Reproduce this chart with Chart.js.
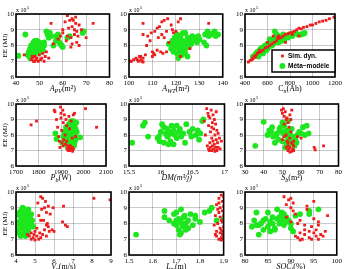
<!DOCTYPE html>
<html>
<head>
<meta charset="utf-8">
<title>EE vs design variables</title>
<script src="https://cdn.jsdelivr.net/npm/chart.js"></script>
<style>
    body {
        margin: 0;
        background: #ffffff;
        width: 345px;
        height: 269px;
        overflow: hidden;
        position: relative;
    }
    canvas {
        position: absolute;
    }
</style>
</head>
<body>
<script>
    // EE values are in units of 1e5 MJ, pairs are [input, EE]
    const simApv = [[43.5,7.4],[46.5,7.1],[47,7.2],[47.5,7.0],[48,7.3],[48.5,7.1],[49,7.2],[49.5,7.0],[50,7.4],[50.5,7.1],[51,7.2],[51.5,7.5],[52,7.0],[52.5,7.3],[53,7.6],[54,7.2],[47,7.3],[48,7.0],[55,9.4],[56,8.1],[60,8.8],[61,9.5],[61.5,8.3],[62,8.6],[62.5,9.1],[63,9.6],[63.5,8.5],[64,9.2],[64,8.1],[64.5,9.6],[65,9.0],[65,8.7],[65.5,9.4],[66,8.9],[66,8.2],[66.5,8.6],[67,9.3],[67,8.0],[63.5,7.9],[68,9.0],[70,8.5],[73,9.4],[62,9.9],[64,9.7],[65.5,9.8],[60,9.0],[58,8.4],[59,8.6]];
    const metaApv = [[41,7.35],[44,8.7],[45,7.4],[45.5,7.6],[46,7.8],[46,7.3],[46.5,8.0],[47,7.5],[47,7.9],[47.5,8.2],[47.5,7.7],[48,8.1],[48,7.4],[48.5,7.8],[49,8.3],[49,7.6],[49.5,8.0],[50,7.8],[50,8.2],[50.5,7.9],[51,8.1],[51.5,7.7],[52,8.2],[53,8.9],[53.5,8.7],[54,8.5],[54.5,8.8],[55,8.6],[56,8.0],[57,8.3],[57.5,8.4],[58,8.5],[58.5,8.2],[59,8.1],[59.5,8.0],[60,7.9],[62,8.5],[63,8.6],[68.5,8.8],[69,8.9],[46,7.2],[48,8.3],[51,7.6],[52,8.0],[57,8.6],[58,8.7]];

    const simAwt = [[100.5,7.0],[102,7.1],[103,7.2],[104,7.0],[105,7.1],[105,7.3],[105.5,7.0],[106,7.2],[106,6.95],[107,7.4],[106,9.4],[106,8.7],[107.5,8.0],[108,8.6],[109,8.3],[109.5,8.8],[110,7.3],[110,7.6],[110.5,7.5],[111,8.9],[111,7.4],[112,9.1],[112,7.7],[112.5,8.5],[113,9.2],[113.5,7.6],[114,9.5],[114,8.7],[114.5,7.5],[115,9.6],[115,8.5],[116,8.9],[116,7.6],[116.5,9.7],[117,8.2],[118,9.3],[118.5,9.0],[119,8.8],[120,8.9],[121,9.5],[122,9.7],[122,7.3],[126,7.8],[134,9.4],[101,7.0],[103.5,7.1],[104.5,7.3]];
    const metaAwt = [[117,8.1],[118,7.8],[118.5,8.3],[119,7.6],[119,8.0],[119.5,8.5],[120,7.9],[120,8.2],[120.5,7.5],[121,8.4],[121,8.0],[121.5,7.7],[122,8.6],[122,8.1],[122.5,7.4],[122.5,7.9],[123,8.3],[123,7.6],[123.5,8.0],[124,8.8],[124,7.8],[124.5,8.2],[125,7.3],[125,8.5],[125.5,7.9],[126,8.4],[126.5,8.1],[127,8.6],[127.5,8.3],[128,8.5],[129,8.2],[129.5,8.6],[130,8.4],[132,8.2],[132.5,8.7],[133,8.0],[133.5,8.9],[134,8.6],[135,8.7],[136,8.8],[136.5,8.9],[137,8.6],[138,8.7],[121,7.2],[124,7.5],[120.5,8.7],[123,8.8]];

    const simCn = [[430,6.95],[445,7.05],[460,7.1],[470,7.2],[480,7.3],[490,7.35],[500,7.4],[510,7.5],[520,7.55],[540,7.6],[560,7.7],[580,7.85],[600,7.9],[620,8.0],[640,8.1],[660,8.2],[680,8.3],[700,8.45],[720,8.5],[740,8.6],[760,8.7],[780,8.75],[800,8.8],[820,8.85],[840,8.9],[860,9.0],[880,9.1],[900,9.05],[920,9.15],[950,9.2],[980,9.3],[1000,9.3],[1030,9.4],[1060,9.5],[1090,9.55],[1120,9.6],[1150,9.7],[1190,9.8],[650,8.6],[690,8.5],[700,8.6],[470,7.15],[490,7.25],[530,7.7],[600,8.2],[760,8.2],[820,8.7],[880,8.6]];
    const metaCn = [[470,7.3],[490,7.4],[500,7.5],[510,7.6],[520,7.45],[530,7.7],[540,7.8],[550,7.6],[560,7.9],[570,7.85],[580,8.0],[590,7.7],[600,8.1],[610,7.9],[620,8.2],[630,8.05],[640,8.3],[650,8.1],[660,8.4],[665,8.9],[670,8.2],[680,8.5],[690,8.3],[700,8.6],[710,8.4],[720,8.5],[730,8.3],[740,8.7],[750,8.4],[760,8.6],[780,8.5],[800,8.7],[820,8.6],[850,8.8],[870,8.7],[900,8.7],[920,8.75],[930,8.8],[560,7.5],[600,7.8],[640,8.0],[520,7.3],[580,7.7],[700,8.2],[620,8.4],[680,8.7]];

    const simPb = [[1767,8.65],[1791,8.9],[1870,9.6],[1873,9.5],[1880,9.0],[1885,8.5],[1890,7.9],[1893,7.6],[1895,7.2],[1898,9.8],[1900,9.1],[1903,8.3],[1905,7.5],[1908,9.6],[1910,8.8],[1912,7.7],[1915,9.3],[1918,8.0],[1920,7.4],[1922,9.0],[1925,8.6],[1928,7.1],[1930,7.3],[1932,7.0],[1935,7.2],[1937,7.1],[1940,7.0],[1942,7.3],[1945,7.15],[1948,7.05],[1950,7.2],[1952,6.95],[1955,7.1],[1935,9.2],[1938,8.4],[1955,9.3],[1960,9.4],[1965,7.9],[2009,9.7],[2058,8.5],[1900,9.4],[1910,7.3],[1925,7.6],[1945,8.9],[1950,7.8]];
    const metaPb = [[1875,8.1],[1880,7.75],[1905,7.5],[1910,7.9],[1915,8.2],[1920,7.6],[1922,8.5],[1925,8.0],[1928,7.4],[1930,8.3],[1932,7.8],[1935,8.7],[1935,8.1],[1938,7.5],[1940,8.4],[1940,7.9],[1942,8.8],[1945,8.2],[1945,7.6],[1948,8.6],[1950,8.0],[1950,7.3],[1952,8.4],[1955,7.8],[1955,8.9],[1958,8.2],[1960,8.6],[1960,7.5],[1962,8.0],[1965,8.4],[1965,7.7],[1968,8.8],[1970,8.2],[1985,7.85],[1930,7.2],[1945,8.9],[1958,7.3],[1938,8.5],[1948,7.9],[1925,8.3]];

    const simDm = [[16.68,8.9],[16.72,9.7],[16.73,7.3],[16.74,9.4],[16.75,7.1],[16.75,8.6],[16.76,7.0],[16.77,9.1],[16.77,7.5],[16.78,8.2],[16.78,7.2],[16.79,9.6],[16.8,7.8],[16.8,7.0],[16.81,8.8],[16.81,7.3],[16.82,9.3],[16.82,7.6],[16.83,8.4],[16.83,7.1],[16.84,9.0],[16.84,7.4],[16.85,8.0],[16.85,6.95],[16.86,7.2],[16.86,8.7],[16.87,9.5],[16.87,7.7],[16.88,7.0],[16.88,8.3],[16.89,7.5],[16.9,7.2],[16.9,8.1],[16.92,7.8],[16.93,7.1],[16.95,7.6],[16.7,8.0],[16.75,9.2],[16.8,8.5]];
    const metaDm = [[15.55,7.5],[15.72,8.6],[15.75,8.8],[15.8,7.9],[15.95,7.8],[15.97,7.9],[16.0,8.2],[16.02,8.7],[16.05,8.5],[16.05,7.5],[16.08,8.1],[16.1,8.4],[16.1,7.9],[16.12,8.0],[16.15,8.2],[16.15,7.6],[16.18,8.1],[16.2,8.3],[16.2,7.4],[16.22,8.0],[16.25,8.6],[16.25,7.8],[16.28,8.2],[16.3,8.4],[16.32,7.9],[16.35,8.1],[16.38,7.5],[16.4,8.7],[16.45,8.2],[16.48,7.9],[16.5,8.4],[16.55,8.0],[16.58,8.3],[16.62,8.1],[16.65,8.9],[16.67,9.0],[16.6,7.7],[16.12,7.4],[16.17,8.6],[15.98,7.6]];

    const simSb = [[49.5,9.6],[50,9.4],[50.5,9.7],[51,9.2],[51,8.7],[51.5,9.5],[52,9.0],[52,8.0],[52.5,7.6],[53,7.3],[53,7.0],[53.5,8.5],[53.5,7.1],[54,9.3],[54,7.8],[54,7.2],[54.5,8.2],[55,7.5],[55,6.95],[55.5,7.1],[55.5,7.4],[56,7.0],[56,7.3],[53,8.8],[52.5,9.1],[51,7.9],[50,7.7],[54,6.9],[55,9.6],[58,7.9],[60,7.8],[67,7.2],[67.5,7.05],[72,7.3],[52,7.2],[53,7.5],[56,7.6],[54.5,9.0]];
    const metaSb = [[35.5,7.3],[40,8.85],[42,8.0],[43,8.3],[44,8.2],[45,7.9],[46,7.5],[47,8.1],[48,7.7],[48.5,8.4],[49,8.5],[50,8.8],[50,7.6],[51,8.6],[51,8.0],[52,8.3],[52,7.5],[53,8.9],[53,7.8],[54,8.1],[54,7.6],[55,8.4],[56,7.9],[56.5,7.3],[57,7.7],[58,8.0],[59,8.2],[60,8.1],[61,8.5],[62,8.0],[63,8.6],[64,8.1],[46.5,7.9],[49.5,8.2],[53.5,7.4],[57.5,7.5],[44.5,8.5],[51.5,7.2]];

    const simVv = [[4.6,7.3],[4.7,7.2],[4.8,7.0],[4.8,7.4],[4.9,7.1],[4.95,7.3],[5.0,7.5],[5.0,6.95],[5.1,7.2],[5.15,9.3],[5.2,7.0],[5.2,8.5],[5.25,7.4],[5.3,9.7],[5.3,7.1],[5.35,8.9],[5.4,9.6],[5.4,7.3],[5.45,8.2],[5.5,9.0],[5.5,7.6],[5.55,9.4],[5.6,8.7],[5.6,7.2],[5.65,8.0],[5.7,9.1],[5.7,7.8],[5.75,7.5],[5.8,8.6],[5.9,7.6],[5.95,9.0],[6.0,7.5],[6.5,9.1],[6.45,8.1],[6.6,7.9],[6.7,7.8],[8.1,9.6],[8.95,9.5],[5.1,7.7],[5.3,8.2],[5.6,7.9]];
    const metaVv = [[4.1,7.6],[4.15,8.1],[4.2,8.5],[4.2,7.9],[4.25,8.8],[4.3,7.3],[4.3,8.3],[4.35,7.7],[4.35,9.0],[4.4,8.0],[4.4,8.6],[4.45,7.5],[4.45,8.2],[4.5,8.9],[4.5,7.8],[4.55,8.4],[4.55,7.4],[4.6,8.1],[4.6,8.7],[4.65,7.6],[4.7,8.3],[4.7,7.9],[4.75,8.5],[4.8,8.0],[4.85,8.2],[4.9,7.8],[4.25,7.2],[4.5,7.2],[4.4,8.8],[4.65,8.9],[4.3,8.0],[4.5,8.0],[4.15,7.4],[4.8,8.6],[4.2,8.7],[4.6,7.3]];

    const simLm = [[1.86,7.9],[1.865,8.5],[1.87,7.2],[1.87,9.2],[1.875,8.0],[1.88,7.0],[1.88,9.6],[1.88,8.7],[1.885,7.4],[1.885,9.0],[1.89,7.1],[1.89,8.2],[1.89,9.8],[1.89,7.6],[1.895,8.8],[1.895,7.3],[1.895,9.4],[1.9,7.0],[1.9,8.5],[1.9,7.8],[1.9,9.7],[1.9,7.2],[1.885,7.7],[1.875,8.9],[1.88,9.3],[1.895,8.1],[1.87,7.5],[1.865,7.3],[1.89,6.95],[1.9,9.1],[1.885,8.4],[1.895,7.5]];
    const metaLm = [[1.53,7.3],[1.65,8.8],[1.65,8.4],[1.67,8.2],[1.69,8.6],[1.69,8.0],[1.7,7.9],[1.7,8.7],[1.71,8.3],[1.71,7.6],[1.72,8.9],[1.72,8.1],[1.72,7.4],[1.73,7.8],[1.73,8.4],[1.74,8.0],[1.74,7.6],[1.75,8.2],[1.75,7.7],[1.76,8.6],[1.77,7.9],[1.78,8.5],[1.78,8.3],[1.8,8.1],[1.82,8.7],[1.84,8.8],[1.85,9.0],[1.87,8.2],[1.9,8.3],[1.7,8.2],[1.715,7.3],[1.735,8.5],[1.725,7.9]];

    const simSoc = [[88.5,9.7],[89,9.2],[89.5,9.5],[90,9.6],[90,9.0],[90.5,8.8],[90.5,9.3],[91,8.6],[91,7.2],[91.5,7.1],[92,8.2],[92,7.4],[92.5,7.0],[93,7.9],[93,7.3],[93.5,9.1],[93.5,8.9],[94,7.5],[94,7.1],[94.5,7.8],[95,7.4],[95,9.4],[95.5,7.6],[95.5,7.2],[96,7.0],[96,7.9],[96.5,7.3],[97,7.2],[97.5,7.5],[98,8.5],[94.5,7.0],[93,7.6],[92,6.95],[91.5,8.0],[96,8.1],[95,8.3],[89,8.4],[90,8.1]];
    const metaSoc = [[81.5,7.8],[82,8.2],[82.5,8.7],[83,7.3],[83,7.9],[83.5,8.0],[84,8.2],[84.5,8.3],[85,8.7],[85,7.8],[85.5,8.1],[85.5,7.5],[86,8.0],[86.5,7.7],[86.5,7.6],[87,8.9],[87,8.3],[87.5,8.4],[87.5,8.0],[88,8.5],[88,8.2],[88.5,8.6],[88.5,7.9],[89,8.4],[89.5,8.2],[90,7.7],[90,8.0],[90.5,7.5],[91,8.5],[92,8.6],[94,8.6],[94,8.8],[96,8.9],[84,7.6],[86,8.4],[88,8.7],[89,8.1],[82.5,7.9]];

    // axis ranges and labels, one entry per panel (row by row)
    const xRanges = [[40,80,10],[100,140,10],[400,1200,200],[1700,2100,100],[15.5,17,0.5],[30,80,10],[4,9,1],[1.5,1.9,0.1],[80,100,5]];
    const yRange = [6, 10, 1];
    // title parts: [text, kind] kind: 'i' italic, 's' italic subscript, 'r' roman
    const xTitles = [
        [['A','i'],['PV','s'],['(m²)','r']],
        [['A','i'],['WT','s'],['(m²)','r']],
        [['C','r'],['n','s'],['(Ah)','r']],
        [['P','i'],['b','s'],['(W)','r']],
        [['DM','i'],['(m³/j)','i']],
        [['S','i'],['b','s'],['(m²)','r']],
        [['V','i'],['v','s'],['(m/s)','r']],
        [['L','i'],['m','s'],['(m)','r']],
        [['SOC','i'],['i','s'],['(%)','r']]
    ];
    const seriesSim = [simApv, simAwt, simCn, simPb, simDm, simSb, simVv, simLm, simSoc];
    const seriesMeta = [metaApv, metaAwt, metaCn, metaPb, metaDm, metaSb, metaVv, metaLm, metaSoc];
    const legendLabels = ['Sim. dyn.', 'Méta−modèle'];
    const yTitle = 'EE (MJ)';

    // layout of the 3x3 grid of plot areas (pixels)
    const colBox = [[16, 111], [129, 226], [245, 340]];
    const rowBox = [[14, 77], [104, 166], [192, 255]];
    const PAD_L = 16, PAD_R = 4, PAD_T = 14, PAD_B = 20;

    const SERIF = "'Liberation Serif', 'DejaVu Serif', serif";
    const RED = '#ee1c1c';
    const GREEN = '#1ee61e';

    function drawRich(ctx, parts, cx, y, size) {
        const fontFor = k => {
            if (k === 's') return 'italic ' + Math.round(size * 0.72) + 'px ' + SERIF;
            if (k === 'i') return 'italic ' + size + 'px ' + SERIF;
            return size + 'px ' + SERIF;
        };
        let total = 0;
        parts.forEach(p => { ctx.font = fontFor(p[1]); total += ctx.measureText(p[0]).width; });
        let x = cx - total / 2;
        ctx.textAlign = 'left';
        ctx.textBaseline = 'middle';
        parts.forEach(p => {
            ctx.font = fontFor(p[1]);
            ctx.fillText(p[0], x, p[1] === 's' ? y + size * 0.3 : y);
            x += ctx.measureText(p[0]).width;
        });
    }

    // frame, x10^5 marks, axis titles and legend
    const decorPlugin = {
        id: 'decor',
        afterDraw(chart, args, opts) {
            const ctx = chart.ctx;
            const a = chart.chartArea;
            ctx.save();
            ctx.strokeStyle = '#000';
            ctx.lineWidth = 1.6;
            ctx.strokeRect(a.left, a.top, a.right - a.left, a.bottom - a.top);

            ctx.fillStyle = '#000';
            ctx.textBaseline = 'alphabetic';
            ctx.textAlign = 'left';
            ctx.font = '6px ' + SERIF;
            ctx.fillText('x 10', a.left, a.top - 2);
            const w = ctx.measureText('x 10').width;
            ctx.font = '4.5px ' + SERIF;
            ctx.fillText('5', a.left + w + 0.5, a.top - 5);

            drawRich(ctx, opts.title, (a.left + a.right) / 2, a.bottom + 12, 8);

            if (opts.yTitle) {
                ctx.save();
                ctx.translate(5, (a.top + a.bottom) / 2);
                ctx.rotate(-Math.PI / 2);
                ctx.font = '7px ' + SERIF;
                ctx.textAlign = 'center';
                ctx.textBaseline = 'middle';
                ctx.fillText(opts.yTitle, 0, 0);
                ctx.restore();
            }

            if (opts.legend) {
                const bx = a.right - 63, by = a.bottom - 27, bw = 63, bh = 22;
                ctx.fillStyle = '#fff';
                ctx.fillRect(bx, by, bw, bh);
                ctx.strokeStyle = '#000';
                ctx.lineWidth = 1.5;
                ctx.strokeRect(bx, by, bw, bh);
                ctx.fillStyle = RED;
                ctx.fillRect(bx + 9, by + 4.6, 2.8, 2.8);
                ctx.fillStyle = GREEN;
                ctx.beginPath();
                ctx.arc(bx + 10.4, by + 16, 2.9, 0, Math.PI * 2);
                ctx.fill();
                ctx.fillStyle = '#000';
                ctx.font = 'bold 6.5px "Liberation Sans", Arial, sans-serif';
                ctx.textAlign = 'left';
                ctx.textBaseline = 'middle';
                ctx.fillText(legendLabels[0], bx + 16, by + 6);
                ctx.fillText(legendLabels[1], bx + 16, by + 16);
            }
            ctx.restore();
        }
    };

    function fmt(v) {
        return String(+v.toFixed(2));
    }

    for (let i = 0; i < 9; i++) {
        const r = Math.floor(i / 3), c = i % 3;
        const left = colBox[c][0] - PAD_L;
        const top = rowBox[r][0] - PAD_T;
        const width = colBox[c][1] - colBox[c][0] + PAD_L + PAD_R;
        const height = rowBox[r][1] - rowBox[r][0] + PAD_T + PAD_B;

        const canvas = document.createElement('canvas');
        canvas.width = width;
        canvas.height = height;
        canvas.style.left = left + 'px';
        canvas.style.top = top + 'px';
        canvas.style.width = width + 'px';
        canvas.style.height = height + 'px';
        document.body.appendChild(canvas);

        const xr = xRanges[i];
        const grid = {
            color: 'rgba(0,0,0,0.35)',
            lineWidth: 0.6,
            borderDash: [1, 2],
            drawTicks: false
        };

        new Chart(canvas.getContext('2d'), {
            type: 'scatter',
            data: {
                datasets: [
                    {
                        label: legendLabels[0],
                        data: seriesSim[i].map(p => ({ x: p[0], y: p[1] })),
                        pointStyle: 'rect',
                        pointRadius: 2,
                        backgroundColor: RED,
                        borderWidth: 0
                    },
                    {
                        label: legendLabels[1],
                        data: seriesMeta[i].map(p => ({ x: p[0], y: p[1] })),
                        pointStyle: 'circle',
                        pointRadius: 2.9,
                        backgroundColor: GREEN,
                        borderWidth: 0
                    }
                ]
            },
            options: {
                responsive: false,
                animation: false,
                devicePixelRatio: 1,
                layout: { padding: { top: PAD_T, right: PAD_R, left: 0, bottom: 0 } },
                plugins: {
                    legend: { display: false },
                    tooltip: { enabled: false },
                    decor: { title: xTitles[i], yTitle: c === 0 ? yTitle : null, legend: i === 2 }
                },
                scales: {
                    x: {
                        type: 'linear',
                        min: xr[0],
                        max: xr[1],
                        grid: grid,
                        border: { display: false },
                        ticks: {
                            stepSize: xr[2],
                            padding: 2,
                            maxRotation: 0,
                            autoSkip: false,
                            color: '#000',
                            font: { family: SERIF, size: 7 },
                            callback: v => fmt(v)
                        },
                        afterFit: s => { s.height = PAD_B; }
                    },
                    y: {
                        type: 'linear',
                        min: yRange[0],
                        max: yRange[1],
                        grid: grid,
                        border: { display: false },
                        ticks: {
                            stepSize: yRange[2],
                            padding: 2,
                            autoSkip: false,
                            color: '#000',
                            font: { family: SERIF, size: 7 },
                            callback: v => fmt(v)
                        },
                        afterFit: s => { s.width = PAD_L; }
                    }
                }
            },
            plugins: [decorPlugin]
        });
    }
</script>
</body>
</html>
